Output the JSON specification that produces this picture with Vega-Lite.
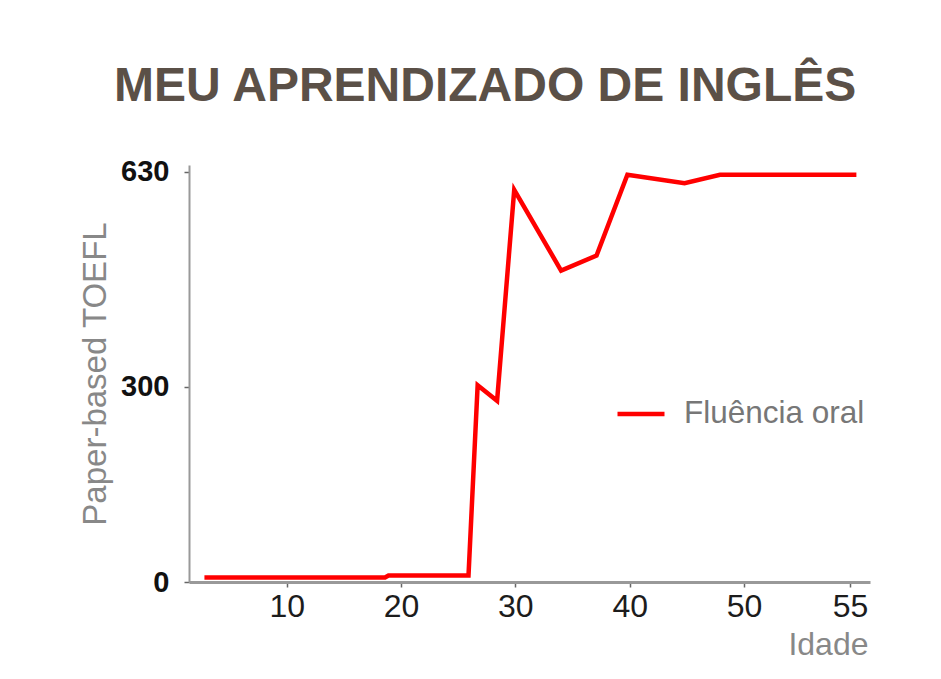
{
  "$schema": "https://vega.github.io/schema/vega-lite/v6.json",
  "width": 681,
  "height": 417,
  "autosize": {"type": "none"},
  "padding": {"left": 189, "top": 165, "right": 71, "bottom": 97},
  "background": "white",
  "config": {"view": {"stroke": null}, "font": "Liberation Sans"},
  "title": {
    "text": "MEU APRENDIZADO DE INGLÊS",
    "anchor": "start",
    "frame": "group",
    "dx": -75,
    "offset": 9,
    "baseline": "alphabetic",
    "fontSize": 48,
    "font": "Liberation Sans",
    "fontWeight": "bold",
    "color": "#5b5047"
  },
  "data": {
    "values": [
      {"idade": 2.8, "toefl": 7, "serie": "Fluência oral"},
      {"idade": 18.6, "toefl": 7, "serie": "Fluência oral"},
      {"idade": 18.9, "toefl": 10, "serie": "Fluência oral"},
      {"idade": 25.9, "toefl": 10, "serie": "Fluência oral"},
      {"idade": 26.7, "toefl": 302, "serie": "Fluência oral"},
      {"idade": 28.4, "toefl": 278, "serie": "Fluência oral"},
      {"idade": 29.9, "toefl": 602, "serie": "Fluência oral"},
      {"idade": 34.0, "toefl": 478, "serie": "Fluência oral"},
      {"idade": 37.1, "toefl": 501, "serie": "Fluência oral"},
      {"idade": 39.8, "toefl": 625, "serie": "Fluência oral"},
      {"idade": 44.8, "toefl": 612, "serie": "Fluência oral"},
      {"idade": 47.9, "toefl": 625, "serie": "Fluência oral"},
      {"idade": 55.3, "toefl": 625, "serie": "Fluência oral"}
    ]
  },
  "mark": {"type": "line", "strokeWidth": 4.5, "strokeCap": "butt"},
  "encoding": {
    "x": {
      "field": "idade",
      "type": "quantitative",
      "scale": {"domain": [1.45, 50, 55, 55.94], "range": [0, 555, 661, 681], "nice": false, "zero": false},
      "axis": {
        "values": [10, 20, 30, 40, 50, 55],
        "title": "Idade",
        "titleX": 679,
        "titleY": 72,
        "titleAlign": "right",
        "titleBaseline": "alphabetic",
        "titleFontSize": 32,
        "titleFontWeight": "normal",
        "titleColor": "#888888",
        "titleFont": "Liberation Sans",
        "labelFontSize": 32,
        "labelFont": "Liberation Sans",
        "labelColor": "#1c1c1c",
        "labelPadding": 4,
        "labelFlush": false,
        "labelOverlap": false,
        "domainColor": "#999999",
        "domainWidth": 3,
        "tickColor": "#666666",
        "tickSize": 5,
        "tickWidth": 1.5,
        "grid": false
      }
    },
    "y": {
      "field": "toefl",
      "type": "quantitative",
      "scale": {"domain": [0, 640], "nice": false},
      "axis": {
        "values": [0, 300, 630],
        "title": "Paper-based TOEFL",
        "titleX": -84,
        "titleY": 208.5,
        "titleAngle": -90,
        "titleAlign": "center",
        "titleBaseline": "alphabetic",
        "titleFontSize": 33,
        "titleFontWeight": "normal",
        "titleColor": "#888888",
        "titleFont": "Liberation Sans",
        "labelFontSize": 29,
        "labelFontWeight": "bold",
        "labelFont": "Liberation Sans",
        "labelColor": "#111111",
        "labelPadding": 15,
        "labelOverlap": false,
        "domainColor": "#999999",
        "domainWidth": 2,
        "tickColor": "#666666",
        "tickSize": 5,
        "tickWidth": 1.5,
        "grid": false
      }
    },
    "color": {
      "field": "serie",
      "type": "nominal",
      "scale": {"range": ["#ff0000"]},
      "legend": {
        "orient": "none",
        "legendX": 426,
        "legendY": 223,
        "title": null,
        "symbolType": "stroke",
        "symbolSize": 2209,
        "symbolStrokeWidth": 4.5,
        "labelFontSize": 31.5,
        "labelFont": "Liberation Sans",
        "labelColor": "#777777",
        "labelOffset": 17,
        "labelLimit": 0
      }
    }
  }
}
